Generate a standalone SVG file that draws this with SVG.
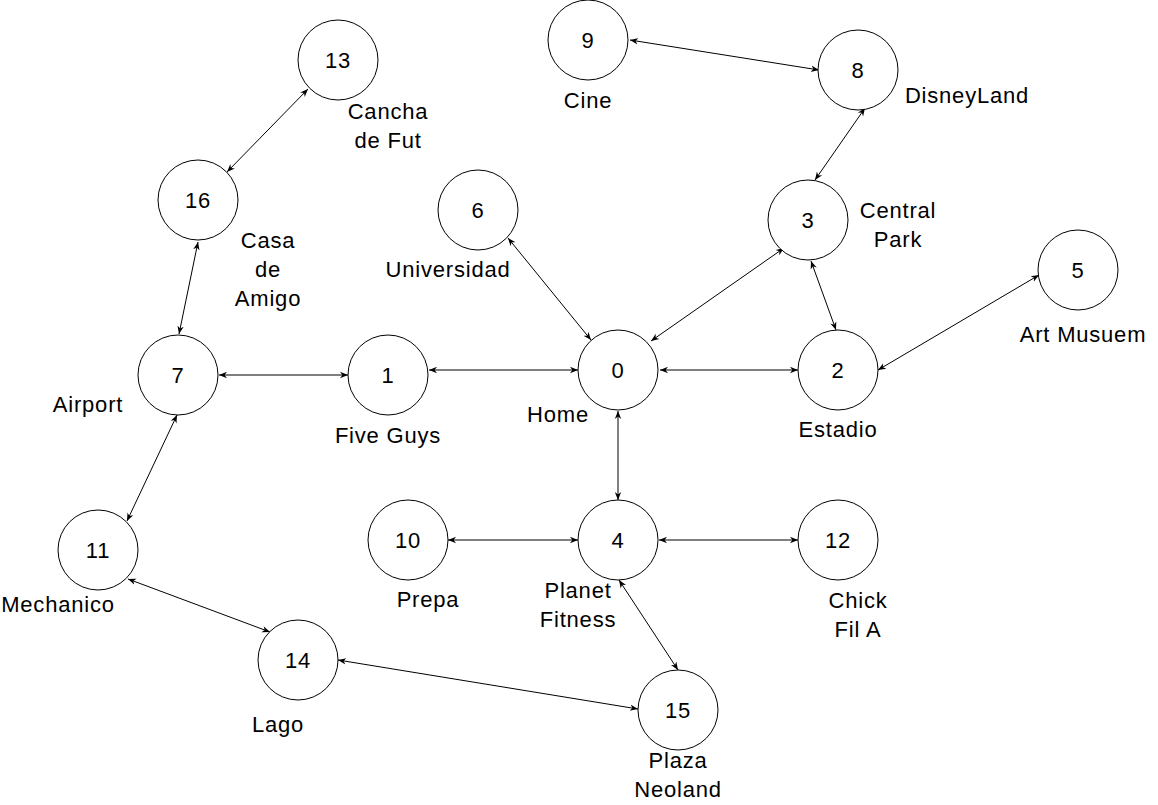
<svg xmlns="http://www.w3.org/2000/svg" width="1158" height="805" viewBox="0 0 1158 805">
<style>
.n circle{fill:#fff;stroke:#000;stroke-width:1}
text{font-family:"Liberation Sans",Arial,Helvetica,sans-serif;font-size:22px;letter-spacing:0.8px;fill:#000;text-anchor:middle}
.e line{stroke:#000;stroke-width:1;marker-start:url(#arr);marker-end:url(#arr)}
</style>
<defs>
<marker id="arr" viewBox="0 0 10 10" refX="10" refY="5" markerWidth="8" markerHeight="8" markerUnits="userSpaceOnUse" orient="auto-start-reverse">
<path d="M0,1 L10,5 L0,9 L3,5 Z" fill="#000"/>
</marker>
</defs>
<rect width="1158" height="805" fill="#fff"/>
<g class="e" id="connectors">
<line x1="227" y1="172" x2="308" y2="89"/>
<line x1="198" y1="242" x2="179" y2="334"/>
<line x1="219" y1="375" x2="348" y2="375"/>
<line x1="429" y1="370" x2="578" y2="370"/>
<line x1="508" y1="238" x2="591" y2="340"/>
<line x1="651" y1="341" x2="784" y2="248"/>
<line x1="815" y1="180" x2="865" y2="108"/>
<line x1="630" y1="40" x2="819" y2="70"/>
<line x1="811" y1="261" x2="836" y2="330"/>
<line x1="878" y1="370" x2="1039" y2="275"/>
<line x1="660" y1="370" x2="798" y2="370"/>
<line x1="618" y1="411" x2="618" y2="500"/>
<line x1="448" y1="540" x2="578" y2="540"/>
<line x1="659" y1="540" x2="798" y2="540"/>
<line x1="619" y1="580" x2="678" y2="670"/>
<line x1="177" y1="415" x2="127" y2="521"/>
<line x1="128" y1="579" x2="270" y2="632"/>
<line x1="338" y1="660" x2="638" y2="709"/>
</g>
<g class="n" id="node13"><circle cx="338" cy="60" r="40"/><text x="338" y="68">13</text><text x="388" y="119">Cancha</text><text x="388" y="148">de Fut</text></g>
<g class="n" id="node16"><circle cx="198" cy="200" r="40"/><text x="198" y="208">16</text><text x="268" y="248">Casa</text><text x="268" y="277">de</text><text x="268" y="306">Amigo</text></g>
<g class="n" id="node7"><circle cx="178" cy="375" r="40"/><text x="178" y="383">7</text><text x="88" y="412">Airport</text></g>
<g class="n" id="node1"><circle cx="388" cy="375" r="40"/><text x="388" y="383">1</text><text x="388" y="443">Five Guys</text></g>
<g class="n" id="node0"><circle cx="618" cy="370" r="40"/><text x="618" y="378">0</text><text x="558" y="422">Home</text></g>
<g class="n" id="node6"><circle cx="478" cy="210" r="40"/><text x="478" y="218">6</text><text x="448" y="277">Universidad</text></g>
<g class="n" id="node3"><circle cx="808" cy="220" r="40"/><text x="808" y="228">3</text><text x="898" y="218">Central</text><text x="898" y="247">Park</text></g>
<g class="n" id="node8"><circle cx="858" cy="70" r="40"/><text x="858" y="78">8</text><text x="967" y="103">DisneyLand</text></g>
<g class="n" id="node9"><circle cx="588" cy="40" r="40"/><text x="588" y="48">9</text><text x="588" y="108">Cine</text></g>
<g class="n" id="node2"><circle cx="838" cy="370" r="40"/><text x="838" y="378">2</text><text x="838" y="437">Estadio</text></g>
<g class="n" id="node5"><circle cx="1078" cy="270" r="40"/><text x="1078" y="278">5</text><text x="1083" y="342">Art Musuem</text></g>
<g class="n" id="node11"><circle cx="98" cy="550" r="40"/><text x="98" y="558">11</text><text x="58" y="612">Mechanico</text></g>
<g class="n" id="node10"><circle cx="408" cy="540" r="40"/><text x="408" y="548">10</text><text x="428" y="607">Prepa</text></g>
<g class="n" id="node4"><circle cx="618" cy="540" r="40"/><text x="618" y="548">4</text><text x="578" y="598">Planet</text><text x="578" y="627">Fitness</text></g>
<g class="n" id="node12"><circle cx="838" cy="540" r="40"/><text x="838" y="548">12</text><text x="858" y="608">Chick</text><text x="858" y="637">Fil A</text></g>
<g class="n" id="node14"><circle cx="298" cy="660" r="40"/><text x="298" y="668">14</text><text x="278" y="732">Lago</text></g>
<g class="n" id="node15"><circle cx="678" cy="710" r="40"/><text x="678" y="718">15</text><text x="678" y="768">Plaza</text><text x="678" y="797">Neoland</text></g>
</svg>
